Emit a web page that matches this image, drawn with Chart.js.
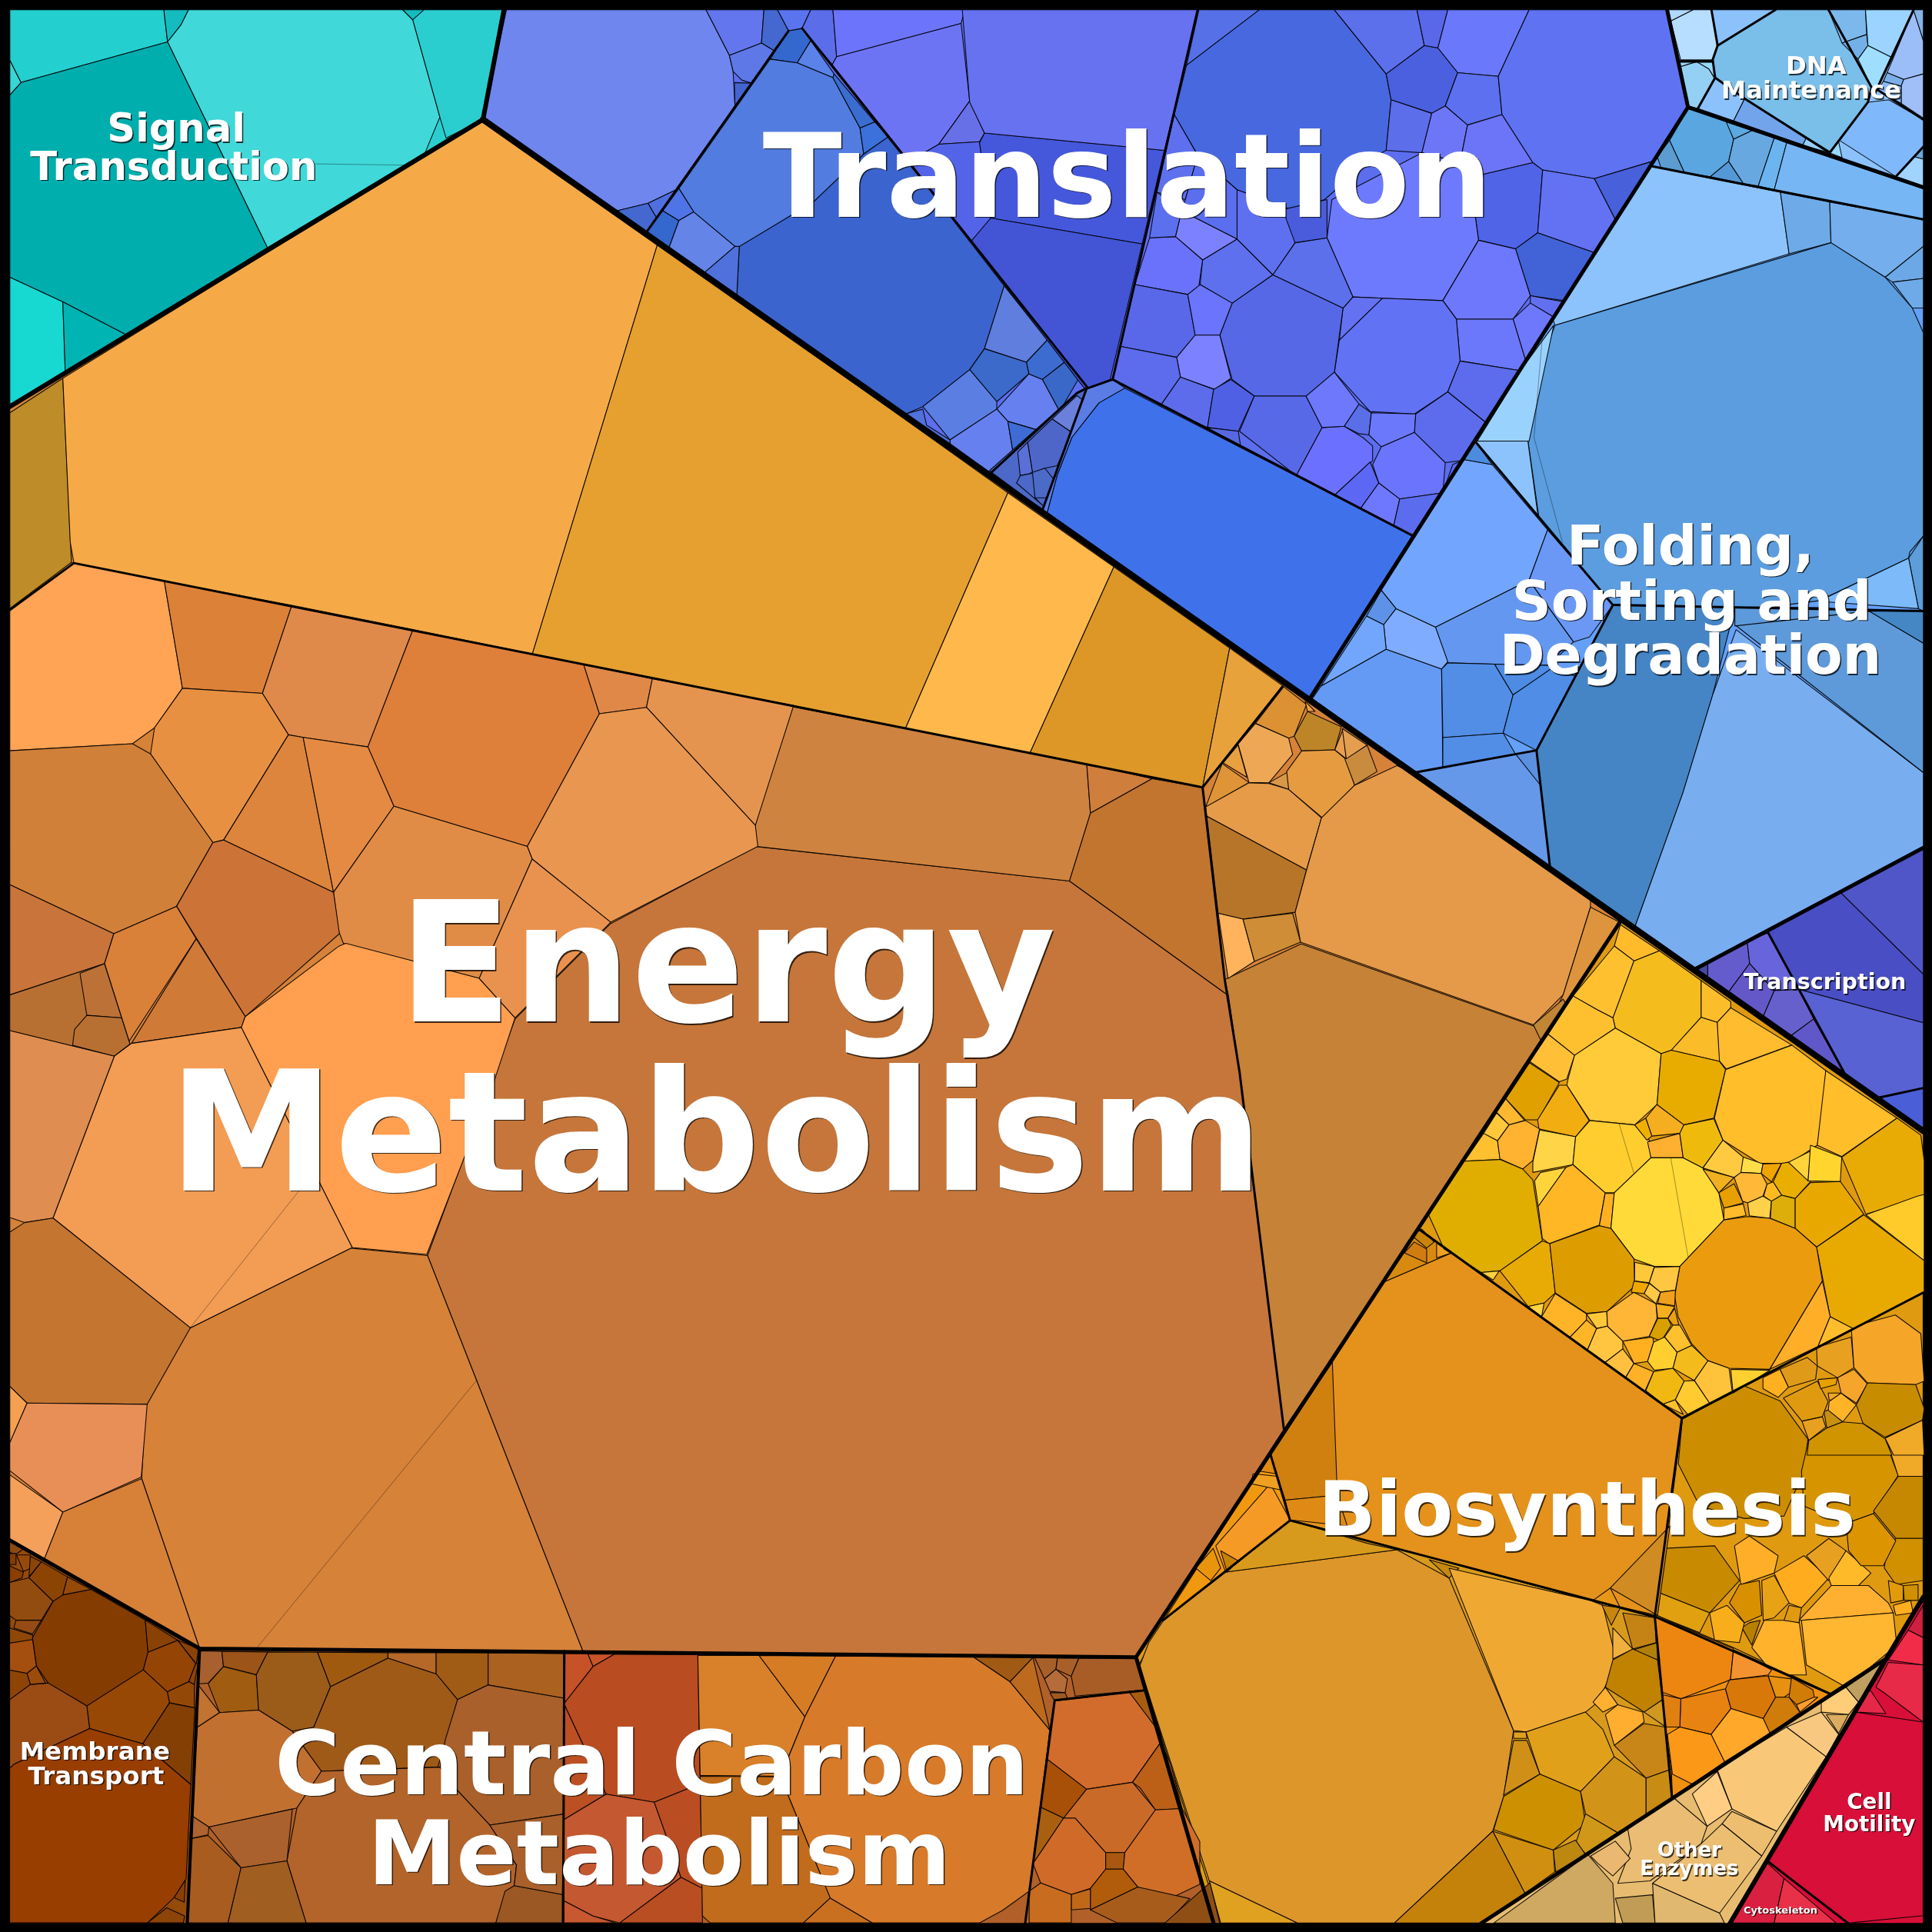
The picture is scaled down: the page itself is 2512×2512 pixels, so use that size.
<!DOCTYPE html>
<html>
<head>
<meta charset="utf-8">
<title>Proteomap</title>
<script src="https://cdn.jsdelivr.net/npm/chart.js@4"></script>
<style>
html, body { margin: 0; padding: 0; background: #000; }
canvas { display: block; }
</style>
</head>
<body>
<canvas id="mapa" width="2512" height="2512"></canvas>
<script>
// Each vertex list was read from a view of the picture: [left, top, width, height] of that view,
// with the view showing as 1568 units across. wholeView is the whole picture.
const wholeView = [0, 0, 2512, 2512];
const yellowView = [1820, 1200, 692, 692];
const lowerView = [1500, 1500, 1012, 1012];
const rightView = [1500, 800, 1012, 700];
const carbonView = [0, 1950, 1560, 562];
const membraneView = [0, 1950, 562, 562];
const energyView = [0, 700, 1000, 1300];

// top level regions, underneath all the cells
const regionCells = [
  [8,8,410,8,392,97,8,330],
  [410,8,1353,8,1370,87,1063,567,392,97],
  [8,330,392,97,1315,748,922,1345,162,1338,8,1250],
  [1353,8,1561,8,1561,152,1370,87],
  [1370,87,1561,152,1561,688,1375,787,1063,567],
  [1375,787,1561,688,1561,918],
  [1315,748,1561,918,1561,1296,1531,1346,1202,1561,985,1561,922,1345],
  [1531,1346,1561,1296,1561,1561,1404,1561],
  [1202,1561,1531,1346,1404,1561],
  [162,1338,922,1345,985,1561,152,1561],
  [8,1250,162,1338,152,1561,8,1561]
];
const regionColors = ["#2BCECF","#5C6EEE","#D68239","#8CC2FC","#64A0F8","#5055C8","#E09A10","#D80F38","#E8BC70","#B06028","#944A08"];

const signalCells = [
  [8,8,133,8,136,34,17,67,8,49],
  [133,8,153,8,147,20,136,34],
  [153,8,327,8,335,16,357,95,345,124,217,201,136,34,147,20],
  [327,8,409,8,392,97,362,112,357,95,335,16],
  [327,8,344,8,335,16],
  [8,77,17,67,136,34,217,201,103,272,51,245,8,225],
  [8,225,51,245,53,303,8,330],
  [51,245,103,272,53,303],
  [8,49,17,67,8,77]
];
const signalColors = ["#24CFCF","#14BCC0","#40D8D8","#2BCECF","#14BCC0","#00AEAE","#18D8D2","#00B4B4","#38D6D6"];

const translationCells = [
  [411,8,573,8,592,45,595,58,596.5,86,551,153,526,165,501,171,392,97],
  [573,8,620,8,618,35,592,45],
  [620,8,631,8,640,25,628,41,618,35],
  [592,45,618,35,628,41,610,67.5,602,65,595,58],
  [596,67,610,67.5,596.5,86],
  [501,171,526,165,533,177,525,188],
  [526,165,551,153,538,171,533,177],
  [640,25,651,23,658,33,647,51,625,48],
  [658,33,677,60,676,63,647,51],
  [631,8,658,8,651,23,640,25],
  [625,48,647,51,676,63,698,104,701,125,690,143,660,164,600,200.6,596.5,200,563,172,551,153],
  [676,63,698,104,710,99,677,60],
  [698,104,710,99,721,111,701,125],
  [600,200,660,164,701,125,721,111,815,232,799,283,787,300,749,330,735,336,598,240],
  [525,188,538,171,551,179,543,201],
  [538,171,551,153,563,172,551,179],
  [551,179,563,172,596.5,200,572,221,543,201],
  [572,221,596.5,200,600,200,598,239.5],
  [799,283,815,232,850,276,833,294],
  [833,294,850,276,864,294,846,308,835,303.5],
  [864,294,875,308,860,334,846,308],
  [787,300,799,283,833,294,835,303.5,809,326],
  [749,330,787,300,809,326,809,332,771,357],
  [809,332,835,303.5,846,308,860,334,842,349,818,342],
  [771,357,809,332,818,342,822,366,804,384,771,360],
  [818,342,842,349,822,366],
  [735,336,749,332,752,345,771,357,771,360],
  // lower wedge
  [803,382,874,319,882,315,846,414],
  [834,359,854,340,870,351,858,378,848,380,838,384],
  [854,340,874,321,879,325,870,351],
  [826,367,834,359,838,384,828,386],
  [836,384,848,380,856,390,854,404,840,404],
  [828,386,838,384,840,404,846,410,825,392],
  [882,315,903,308,913,315,892,327,870,355,858,386,850,416,846,414],
  [913,315,1147,435,1063,566,850,416,858,386,870,355,892,327],
  // upper purple block
  [658,8,676,8,679,46,675.5,52.5,651,23],
  [676,8,783,8,780,19,679,46],
  [675.5,52.5,679,46,780,19,787,82,762,117,738,131],
  [787,82,799,108,795,115,762,117],
  [738,131,762,117,795,115,804,178,788,196],
  [799,108,945,122,927,198,804,177,795,116],
  [804,177,927,198,901,308,884,315,880,315,788,196],
  [781,8,973,8,945,122,799,108,787,83]
];
const translationColors = ["#6E86EE","#6476EE","#4468D0","#5E78E8","#4464D0","#4468D0","#4F6FE0","#3468CE","#5A82E8","#5A74F0",
  "#527CDF","#3B6CD0","#3C70DA","#3B64CE","#3468CE","#4F74E8","#6484E8","#5070DC","#5F7EDE","#3D6CD0","#3A68C8","#3C6ACB","#5A7EE2","#6680F0","#6680F0","#3E6CD4","#5070DC",
  "#4C68C8","#4E66C8","#6A80DC","#5A70D8","#4C6AC8","#4C68C8","#5A7CE4","#3F72EA",
  "#5B6DE8","#6C74FC","#6D74F4","#6870E8","#5464E8","#4558DC","#4355D5","#6772F0"];

const ribosomeCells = [
  [973,8,1022,8,963,53],
  [1022,8,1083,8,1125,60,1129,81,1125,122,1114,128,1075,162,1047,170,1004,154,972,126,953,93,963,53],
  [1083,8,1150,8,1156,37,1125,60],
  [1150,8,1175,8,1167,39,1156,37],
  [1175,8,1241,8,1216,62,1183,59,1167,39],
  [1156,37,1167,39,1183,59,1173,86,1162,92,1129,81,1125,60],
  [1183,59,1216,62,1219,93,1191,101.5,1173,86],
  [1241,8,1353,8,1370,87,1341,131,1294,145,1252,138,1244,132,1219,93,1216,62],
  [1129,81,1162,92,1154,124,1125,122],
  [1162,92,1173,86,1191,101.5,1185,132,1154,124],
  [1191,101.5,1219,93,1244,132,1193,144,1185,132],
  [1244,132,1252,138,1248,189,1230,202,1200,195,1193,144],
  [1252,138,1294,145,1311,178,1294,205,1248,189],
  [1294,145,1341,131,1311,178],
  [1248,189,1294,205,1269,244,1242,240,1230,202],
  [1077,193,1081,162,1154,124,1185,132,1193,144,1200,195,1171,244,1122,242,1098,241],
  [1200,195,1230,202,1242,240,1228,259,1182,259,1171,244],
  [1242,240,1269,245,1262,258,1242,246],
  [1228,259,1242,246,1262,258,1238,292],
  [1182,259,1228,259,1238,292,1235,301,1185,293],
  [1122,242,1171,244,1182,259,1185,293,1175,318,1148,336,1112,334,1083,302,1087,276],
  [1098,241,1122,242,1087,276,1090,250],
  [1185,293,1235,301,1206,343,1175,318],
  [1033,223,1090,250,1083,302,1060,321.5,1018,321.5,1000,308,990,272,1000,246],
  [1051,197,1077,193,1098,241,1090,250,1033,223],
  [1004,194,1033,223,1000,246,974,231,976,211],
  [1004,194,1004,154,1047,170,1051,197,1033,223],
  [959,171,1004,194,976,211,954,192],
  [933,193,954,192,976,211,973,232,964,239,921,231],
  [921,231,964,239,970,272,955,290,909,281],
  [964,239,974,231,1000,246,990,272,970,272],
  [970,272,990,272,999,307,986,316,958,306,955,290],
  [909,281,955,290,958,306,942,329,903,308],
  [942,329,958,306,985,316,980,347],
  [985,316,999,308,1018,321.5,1005,350,980,347],
  [1018,321.5,1060,321.5,1073,347,1052,386,1006,350],
  [980,347,1005,350,1007,363,988,352],
  [1073,347,1091,346,1106,355,1114,362,1114,374,1083,402,1052,386],
  [1060,321.5,1083,302,1103,328,1091,346,1073,347],
  [1103,328,1113,335,1111,353,1103,352,1091,346],
  [1113,335,1149,336,1148,351,1121,362.6,1111,353],
  [1149,336,1175,318,1206,343,1189,373.5,1173,375.5,1148,351],
  [1121,362.6,1148,351,1173,375.5,1171,400,1136,405,1119,392,1114,377],
  [1083,402,1112,375,1119,392,1104,413],
  [1104,413,1119,392,1136,405,1131,427],
  [1136,405,1171,400,1179,377,1189,373,1147,435,1131,427],
  [1041,170,1077,162,1077,193,1051,197],
  [939,156,953,93,972,126,962,162],
  [933,193,939,156,959,171,954,192],
  [972,126,1004,154,1004,194,959,171,962,162]
];
const ribosomeColors = ["#5670E8","#4868E0","#5C70EC","#5868E8","#6A78FC","#4A60DE","#5C70F0","#5F72F2","#5C6EEA","#6E76F8",
  "#6C74F8","#5064E8","#6272F2","#4860DA","#4262D8","#6E7AFE","#6E78FC","#6270F0","#6E78FC","#6C78FC",
  "#6272F4","#6472F2","#5C6CEC","#5668E6","#5C70EC","#5E70EE","#5E70F0","#7C82FF","#6A72FC","#5868E8",
  "#6A74FC","#7C82FF","#5C6CEC","#5C6CEA","#4F60E4","#5869E8","#5868E0","#6C70FF","#6E78FC","#5A6EE8",
  "#6C78FC","#5C6CEC","#6A74FC","#5C68F4","#6E78FF","#5C6CEE","#4A5CDC","#5E70EE","#5C70EE","#5A6EEE"];

const foldingCells = [
  [1370,88,1402,99,1407,113,1403,131,1388,143.5,1367,140,1355,114],
  [1401,99,1422,106,1407,113],
  [1355,114,1367,140,1348,136,1345,127],
  [1388,143.5,1403,131,1415,149],
  [1407,113,1422,106,1440,112,1427,151,1415,149,1403,131],
  [1440,112,1450,116,1440,154,1427,151],
  [1450,116,1561,153,1561,178,1440,154],
  [1340,135,1445,156,1452,206,1262,264,1260,258],
  [1445,156,1485,164,1486,197,1452,206],
  [1485,164,1561,178,1561,200,1530,225,1486,197],
  [1530,225,1561,200,1561,226,1536,229],
  [1536,229,1561,226,1561,250,1552,250],
  [1262,264,1486,197,1530,225,1552,250,1561,270,1561,435,1550,448,1549,453,1476,487.6,1436,492.6,1408,493,1309,491,1267,443,1249,420,1240,357,1244,312],
  [1261,264,1241,358,1199,358,1236,298],
  [1197.7,358,1240,358,1248.4,420],
  [1549,453,1561,435,1561,496,1557,494],
  [1549,453,1557,494,1476,488],
  [1188,373,1211,377,1256,430,1241,471,1165,509,1133,494,1121,479],
  [1188,373,1197,358,1211,377],
  [1256,430,1309,491,1290,517,1277,521,1241,471],
  [1241,471,1277,521,1257,540,1213,539,1175,538,1165,509],
  [1121,479,1133,494,1123,507,1109,500],
  [1133,494,1165,509,1175,537,1170,543,1125,527,1123,507],
  [1109,500,1123,507,1125,527,1072,557],
  [1072,557,1125,527,1170,543,1171,623,1148,627,1065,567],
  [1170,543,1175,538,1213,539,1228,564,1220,595,1171,598.6],
  [1213,539,1257,540,1280,545,1260,544,1228,564],
  [1228,564,1260,542,1279,549,1247,609,1220,595],
  [1171,598.6,1220,595,1230,612,1171,623],
  [1148,627,1247,609,1258,695,1258,704],
  [1230,612,1247,609,1250,637],
  [1309,491,1408,493,1390,564,1366,643,1327,752,1258,704,1247,609],
  [1390,564,1409,511,1561,627,1561,688,1375,786,1327,752,1366,643],
  [1408,507,1517,496,1561,522,1561,627],
  [1408,493,1476,493,1517,496,1408,508],
  [1517,496,1561,496,1561,522]
];
const foldingColors = ["#5AA6E0","#5CA8E0","#5C9CD0","#5598D8","#68A8E0","#6CB4F0","#76B6F4","#8CC3FC","#6EAAE8","#74AEEC",
  "#6CA8E6","#6EAAE8","#5B9DDF","#9AD2FE","#8CC3FC","#5C9DDA","#7DBAFA","#72A6FE","#4C8CE0","#6A98F4",
  "#6498F0","#5E92E8","#80ACFF","#72A6FC","#649AF4","#528EE6","#4E8CE4","#4F8DE6","#528EE6","#6698EA",
  "#5B90E0","#4585C5","#78AEF0","#5E9ADA","#5C9ADC","#4587C5"];

const dnaCells = [
  [1356,17,1374,8,1389,8,1394,37,1390,48.5,1364,48.5],
  [1354,8,1374,8,1356,17],
  [1364,54,1377,50,1387,56,1392,64.5,1378,88,1370,86],
  [1363,49,1390,49,1392,64,1387,56,1377,50,1364,54],
  [1389,8,1441,8,1394,37],
  [1441,8,1484,8,1519,71,1516,83,1485,123,1416,80,1392,63,1390,48.5,1394,37],
  [1392,63,1416,80,1407,98,1378,88],
  [1416,80,1466,112,1463,118,1407,98],
  [1466,112,1485,124,1463,118],
  [1485,124,1492,114,1495,128],
  [1484,8,1514,8,1515,28,1495,35],
  [1495,35,1515,28,1516,37,1508,48],
  [1514,8,1553,8,1536,47,1516,37],
  [1516,37,1536,47,1521,77,1519,71,1508,48],
  [1553,8,1561,33,1561,60,1545,64.5,1531.6,59],
  [1553,8,1561,8,1561,33],
  [1531.6,59,1545,64.5,1543,70,1528.5,66],
  [1545,64.5,1561,60,1561,96,1543,84,1543,70],
  [1528.5,66,1543,70,1543,84,1524,73],
  [1516,83,1533,81,1561,97,1561,119,1539,143.5,1493,114],
  [1539,143.5,1553,127,1561,129,1561,151],
  [1553,127,1561,119,1561,129]
];
const dnaColors = ["#B8DEFF","#B0D8FF","#94D0F4","#98D8FA","#8CC2FC","#7ABEEA","#8CC2FC","#72A4EC","#98CEFF","#98D8FF",
  "#7CB8EC","#74B0E8","#9AD4FF","#A0DEFF","#9CBEF8","#84B4E8","#7CAEE8","#A0BEF8","#8CB8F4","#80B8FC","#A0D4FF","#6CA8E0"];

const transcriptionCells = [
  [1434.5,756,1494,724.5,1561,790.6,1561,830,1460,803],
  [1494,724.5,1561,688,1561,790.6],
  [1460,803,1498,873,1524,891,1561,883,1561,830],
  [1524,891,1561,883,1561,917],
  [1376,785,1386,781,1386,794],
  [1386,781,1418,764,1420,782,1403,805,1386,794],
  [1418,764,1435,757,1460,803,1440,804,1420,782],
  [1403,805,1420,782,1440,804,1431,825],
  [1440,804,1460,803,1472,827,1453,841,1431,825],
  [1472,827,1498,873,1453,841]
];
const transcriptionColors = ["#4A4EC4","#5055C8","#5862D2","#4A5ED8","#4848A8","#645CCC","#6864DC","#6458C8","#6660CC","#6058C8"];

const energyTopCells = [
  [8,335,51,307,58,457,8,495],
  [51,307,392,97,534,197,432,531,60,457,57,440],
  [534,197,818,400,735,591,432,531],
  [818,400,904,460,836,611,735,591],
  [904,460,998,526,976,639,836,611],
  [998,526,1041.6,557,993,618,976,639],
  [994,795,1056,766,1243,832,1258,838,1042,1160,1006,870],
  [614,687,868,715,997,808,1006,870,1042,1160,922,1345,473,1340,347,1019,418,827,495,750],
  [640,573,882,620,885,660,868,715,614,687,613,670],
  [882,620,935,632,885,660],
  [885,660,935,632,976,639,994,795,997,808,868,715],
  [285,1013,347,1019,473,1340,162,1338,115,1200,118,1140,154,1078],
  [36,1265,51,1227,115,1200,162,1338],
  [8,1197,51,1227,36,1265,8,1250]
];
const energyTopColors = ["#BE8C28","#F5AA47","#E6A030","#FFB84B","#DC9726","#E8A23C","#C68237","#C6763A","#CF8340","#D07E3C","#C2752F","#D68239","#D78038","#F5A05A"];

const energyRightCells = [
  [262,208,308,260,283,352,272,358,205,315],
  [305,250,325,280,310,280],
  [310,280,378,325,365,392,298,395,283,352],
  [170,375,205,315,272,358,280,405,232,488,192,487],
  [140,430,170,378,188,472],
  [105,558,138,432,192,487],
  [105,558,192,488,232,490,272,507,338,590,308,742,107,585],
  [232,488,272,455,272,507],
  [272,507,268,455,298,395,365,392,388,420,405,495,340,590],
  [365,392,382,330,388,418],
  [385,418,430,378,450,455,405,495],
  [380,330,430,378,388,418],
  [107,585,308,742,285,865,180,885,130,868],
  [130,868,180,885,203,1008,150,1058],
  [180,885,280,868,296,952,203,1008],
  [338,590,405,495,490,438,525,460,880,830,880,850,825,1105,765,1193,296,952,285,865,308,742],
  [825,1105,880,850,940,895,790,1215],
  [765,1193,825,1118,830,1130,790,1218,780,1238]
];
const energyRightColors = ["#DC9233","#F0A040","#BE8528","#EEA855","#E8A040","#DF9438","#E59B48","#D89848","#E69B40","#E8A050","#C98B3E","#E59E50","#B7752A","#FFB35C","#CE8D36","#E49A48","#DE943C","#C08636"];

const energyLeftCells = [
  [20,110,145,38,335,67,372,235,315,297,270,322,20,333],
  [335,67,595,105,535,243,372,235],
  [595,105,842,143,750,327,618,312,588,308,535,243],
  [842,143,1190,198,1222,275,1075,483,803,420,750,327],
  [1190,198,1330,220,1318,265,1222,275],
  [1330,220,1618,262,1540,450,1318,265],
  [1222,275,1318,265,1540,450,1545,483,1245,602,1085,503,1075,483],
  [372,235,535,243,588,308,456,473,434,477,307,338,315,297],
  [588,308,618,312,680,555,456,473],
  [618,312,750,327,803,420,680,555],
  [803,420,1075,483,1085,503,977,690,700,635,690,615,680,555],
  [20,333,270,322,307,338,434,477,360,577,232,620,20,543],
  [434,477,456,473,680,555,692,620,500,750,360,577],
  [20,543,232,620,213,667,20,716],
  [232,620,360,577,400,628,262,790,213,667],
  [400,628,500,750,492,767,268,792],
  [20,716,213,667,265,793,233,812,20,772],
  [163,682,213,667,248,752,177,748],
  [177,748,248,752,265,793,233,812,148,795,152,770],
  [500,750,690,640,705,635,977,690,1050,752,1010,845,870,1123,718,1112,492,767],
  [977,690,1085,503,1245,602,1050,752],
  [233,812,268,792,492,767,718,1112,388,1238,108,1066],
  [20,772,233,812,108,1066,50,1073,20,1065],
  [20,1088,50,1073,108,1066,388,1238,300,1358,55,1356,20,1330],
  [55,1356,300,1358,288,1472,128,1527,20,1462,20,1418],
  [20,1330,55,1356,20,1418]
];
const energyLeftColors = ["#FFA354","#DC8138","#DF8A4A","#DE7F3A","#E08848","#E59450","#E99650","#E89041","#DD853C","#E58A42","#E18C46","#D18039",
  "#CC7337","#C9743A","#D98039","#D07A38","#B87032","#BC7236","#B87032","#FF9F4F","#E9924F","#F39C54","#DF8D50","#C47530","#E88F58","#F5A050"];

const yellowCells = [
  [650,5,765,82,690,112,632,68],
  [632,68,690,112,628,280,580,255,510,215],
  [690,112,765,82,888,170,888,278,800,375,770,385,635,310,628,280],
  [888,170,975,232,975,250,935,293,888,278],
  [935,293,975,250,1155,360,962,430,940,405],
  [800,375,888,278,935,293,942,408],
  [510,215,580,255,628,280,635,310,515,390,437,328],
  [382,408,437,328,515,390,492,460,470,468],
  [515,390,635,310,770,385,758,535,692,595,560,582,492,478,497,455],
  [770,385,800,375,942,408,960,432,925,575,837,595,758,535],
  [960,432,1155,360,1255,435,1250,520,1230,655,1150,708,1060,708,952,640,927,575],
  [1255,435,1465,575,1302,688,1230,655],
  [1465,575,1535,625,1545,700,1545,805,1373,858,1302,690],
  [312,518,382,412,470,470,408,580,370,580],
  [470,478,492,478,558,582,518,630,410,607,406,580],
  [285,558,312,518,368,582,322,595],
  [247,620,285,560,322,595,288,642],
  [190,702,247,620,288,642,296,697],
  [288,642,322,595,370,582,412,607,392,700,362,725,295,695],
  [412,610,518,630,510,712,392,735,392,705],
  [510,712,518,630,560,582,692,595,735,640,740,692,632,795,605,795],
  [692,595,725,575,743,628,728,640],
  [725,575,757,535,837,595,825,620,743,628],
  [730,645,825,620,835,692,740,692],
  [825,620,837,595,925,577,952,640,893,722,835,692],
  [893,722,952,640,1012,690,1008,735,985,750],
  [1012,690,1070,710,1065,738,1005,735],
  [1070,710,1125,708,1095,763,1065,738],
  [1125,708,1145,705,1210,762,1165,812,1125,802,1100,763],
  [1145,705,1210,672,1203,760],
  [1210,655,1302,690,1298,762,1203,760],
  [397,760,415,735,490,720,408,835],
  [408,835,490,720,510,712,605,795,588,890,440,945,420,930],
  [605,797,632,797,622,900,588,892],
  [632,795,740,692,835,692,893,722,940,795,955,875,825,1012,750,1012,690,990,622,900],
  [893,725,985,750,940,795],
  [940,795,985,768,1012,825,955,840],
  [955,840,1012,828,1020,862,955,875],
  [985,750,1005,735,1065,738,1082,770,1070,805,1025,825,1010,820],
  [1082,770,1100,763,1125,802,1095,820,1072,805],
  [1025,825,1070,805,1095,820,1090,870,1030,863],
  [1095,820,1125,802,1165,812,1165,900,1092,870],
  [1165,812,1210,765,1298,762,1367,858,1228,955,1165,900],
  [1373,860,1525,805,1545,800,1545,995],
  [1228,955,1367,860,1545,995,1545,1090,1335,1195,1268,1160],
  [955,875,1025,865,1090,870,1165,900,1228,955,1245,1055,1090,1315,970,1312,905,1288,860,1240,820,1160,810,1100,825,1012],
  [1245,1055,1268,1160,1232,1248,1090,1315],
  [1232,1248,1268,1160,1335,1195],
  [85,860,190,702,295,697,362,725,392,757,420,937,295,1025,240,1030,130,960],
  [295,1025,420,937,442,945,458,1090,425,1120,378,1130],
  [442,945,588,892,622,900,690,990,692,1070,610,1145,550,1150,458,1090],
  [240,1030,293,1025,275,1052],
  [378,1130,425,1120,418,1160],
  [418,1160,458,1092,550,1152,550,1170,500,1222],
  [500,1222,550,1170,580,1195,553,1258],
  [550,1152,610,1145,612,1188,580,1195],
  [553,1258,580,1195,612,1188,657,1232,657,1255,605,1295],
  [605,1295,657,1255,690,1298,665,1340],
  [665,1340,690,1298,748,1322,722,1380],
  [657,1232,745,1220,748,1235,730,1292,690,1298],
  [610,1145,690,1088,755,1122,758,1165,735,1218,657,1232,612,1188],
  [692,1000,750,1012,735,1060,692,1055],
  [750,1015,825,1012,812,1082,768,1088,735,1060],
  [690,1055,735,1062,720,1092,682,1088],
  [735,1062,768,1088,755,1122,720,1092],
  [768,1088,812,1082,810,1128,760,1120],
  [755,1122,810,1130,790,1165,760,1165],
  [760,1165,790,1165,800,1185,770,1232,735,1218],
  [790,1165,810,1135,822,1185,805,1185],
  [780,1220,805,1185,825,1185,860,1245,817,1265],
  [748,1235,780,1220,817,1265,805,1312,750,1318,730,1292],
  [817,1265,860,1245,908,1290,868,1348,805,1312],
  [748,1322,805,1312,838,1350,812,1405,775,1418,725,1378],
  [838,1350,868,1348,915,1418,850,1450,812,1405],
  [868,1348,908,1290,970,1312,980,1385,915,1418],
  [975,1315,1090,1318,982,1385],
  [775,1418,812,1405,835,1448]
];
const yellowColors = ["#FFBB2A","#FFC030","#F4BC1C","#FBBE2A","#FFBC2E","#FBBC2A","#FFC030","#FFC038","#FFCB38","#E8AC00",
  "#FFBE2A","#FFBE2A","#E8AA05","#E0A000","#F2AE10","#FFB830","#FFC83A","#FFC030","#FFB330","#FFD446",
  "#FFCE2E","#F0B000","#F5AE20","#FFB030","#EEBB0C","#FFCA40","#FFDE4A","#F0A400","#EAAE00","#FFD33A",
  "#FFD52E","#FFD43A","#FFB726","#FFB020","#FFDA38","#F0B020","#E8A000","#FFBB2A","#FFB838","#FFBA20",
  "#FFD04A","#DDAD0A","#E8A800","#FFCB2A","#E8AA00","#EA9C0E","#FFAE28","#FFBC2C","#E0AE00","#E8AA05",
  "#DD9C00","#FFD040","#FFD440","#FFB428","#FFB626","#FFC83A","#FFC540","#FFC040","#FFB228","#FFB020",
  "#FFB535","#FFC83A","#FFC642","#F0A800","#FFC845","#F0A01C","#F5AE1E","#D8A000","#ECA010","#FFC030",
  "#FFCF30","#F3BC1C","#F0B810","#FFCB30","#FFC23A","#FFD030","#FFC030"];

// corner of the orange block under the yellow one, read again from the yellow view
const orangeTopCells = [
  [1130,1400,1230,1350,1262,1410,1245,1455,1185,1468],
  [1120,1315,1200,1280,1230,1305,1225,1345,1145,1368],
  [1070,1340,1120,1315,1145,1368,1115,1398,1070,1372],
  [1228,1250,1330,1220,1338,1310,1290,1340,1230,1305],
  [1330,1190,1460,1155,1535,1210,1545,1350,1520,1360,1378,1355,1338,1310],
  [1290,1340,1338,1315,1378,1358,1345,1415,1300,1385],
  [1232,1345,1290,1340,1285,1360,1240,1372],
  [1262,1385,1300,1385,1295,1410,1265,1405],
  [1265,1410,1300,1385,1345,1420,1305,1470,1262,1440],
  [1185,1468,1245,1455,1255,1485,1205,1525],
  [1250,1440,1262,1435,1305,1470,1258,1488],
  [1345,1420,1378,1355,1520,1360,1545,1430,1540,1465,1430,1515,1365,1475],
  [1305,1470,1365,1475,1430,1520,1450,1568,1200,1568,1205,1525,1258,1488],
  [1430,1518,1540,1465,1545,1568,1455,1568]
];
const orangeTopColors = ["#E09A10","#E09A1A","#FFB020","#E8A020","#F5A528","#F5A42C","#E8A000","#F0A820","#FFB428","#E8A020","#C89010","#C88C00","#D09400","#F0AA28"];

const lowerCells = [
  // darker orange block, right
  [1065,535,1550,280,1550,900,1475,1018,1365,1088,1168,995,1010,928],
  [1065,535,1190,468,1262,498,1318,575,1310,640,1270,730,1190,735,1100,710,1057,625],
  [1305,640,1320,575,1395,542,1472,575,1500,648,1450,725,1395,745,1310,710],
  [1475,572,1550,535,1550,650,1500,650],
  [1450,720,1500,650,1550,650,1550,775,1495,775],
  [1475,810,1495,775,1550,775,1550,860,1495,868,1472,835],
  [1030,795,1130,790,1180,860,1120,925,1020,885],
  [1170,790,1200,770,1258,810,1250,845,1183,868],
  [1250,845,1310,810,1360,855,1305,915,1278,905],
  [1315,810,1360,775,1395,800,1360,860],
  [1360,855,1395,800,1445,845,1420,870,1365,870],
  [1300,940,1365,870,1440,870,1480,905,1490,925,1305,940],
  [1305,940,1490,925,1497,990,1395,1075,1315,1030],
  [1205,995,1230,940,1300,940,1315,1050,1250,1050],
  [1185,955,1200,945,1222,940,1205,990],
  [1120,925,1155,910,1190,945,1180,985,1130,980],
  [1180,868,1220,860,1225,930,1190,945,1160,905],
  [1225,860,1250,850,1280,905,1250,935,1228,940],
  [1280,910,1305,915,1300,945,1270,940],
  [1020,885,1120,925,1100,965,1012,930],
  [1395,745,1450,725,1495,780,1470,830,1425,830,1400,800],
  [1480,860,1510,870,1510,900,1485,905],
  [1510,870,1540,868,1540,900,1512,900],
  [1490,910,1525,900,1530,925,1495,930],
  // orange-red wedge
  [1010,928,1365,1088,1045,1298],
  [1008,930,1168,997,1162,1060,1062,1098,1025,1085],
  [1168,1000,1245,1040,1238,1050,1162,1060],
  [1062,1098,1152,1078,1163,1118,1123,1170,1060,1155],
  [1025,1090,1062,1098,1060,1155,1030,1155],
  [1152,1078,1160,1060,1238,1052,1253,1095,1228,1138,1163,1118],
  [1238,1052,1285,1058,1295,1078,1270,1095,1253,1095],
  [1285,1055,1328,1080,1332,1100,1295,1110,1280,1095],
  [1228,1138,1253,1095,1280,1095,1302,1125,1240,1170],
  [1123,1170,1163,1118,1228,1138,1242,1168,1150,1225],
  [1035,1170,1060,1155,1123,1170,1150,1225,1085,1270,1045,1250],
  [1295,1110,1330,1095,1338,1095,1302,1125],
  // golden block
  [275,738,1010,935,1045,1298,660,1550,135,1550,-30,1030,-5,985,20,940],
  [20,940,145,843,490,798,595,855,725,1162,705,1295,683,1365,485,1550,290,1550,112,1465,0,1120,-28,1032,-10,985],
  [112,1465,290,1550,135,1550],
  [145,843,275,738,430,785,490,798],
  [555,818,615,835,595,855],
  [595,835,880,900,905,910,927,1000,925,1040,895,1105,870,1125,750,1165,725,1162],
  [903,910,940,915,922,950],
  [925,955,965,998,925,1018],
  [945,925,1010,935,1012,985,965,998],
  [965,1000,1015,985,1015,1020],
  [925,1020,965,998,1015,1020,1025,1100,988,1125,910,1075],
  [885,1105,910,1075,935,1110,905,1125],
  [910,1130,935,1110,985,1125,988,1145,928,1192],
  [988,1125,1025,1100,1032,1155],
  [928,1192,988,1148,1030,1155,1043,1240,992,1258],
  [750,1165,870,1125,905,1160,928,1215,860,1285,778,1250],
  [725,1165,750,1165,752,1178,725,1178],
  [725,1182,752,1182,778,1250,705,1292],
  [705,1295,778,1250,860,1285,870,1350,805,1403,685,1362],
  [860,1285,928,1215,992,1258,992,1333,935,1368,870,1330],
  [992,1258,1043,1240,1045,1298,992,1332],
  [870,1330,935,1368,870,1410,850,1390],
  [805,1403,850,1383,870,1412,810,1447],
  [683,1365,805,1403,808,1447,748,1490],
  [683,1365,748,1490,660,1550,485,1550],
  // big orange cell and its neighbours
  [360,420,465,258,600,200,1065,535,1015,930,880,900,275,738,235,605],
  [235,605,360,420,370,688,265,698],
  [265,698,370,688,390,750,275,738],
  [920,875,1040,750,1015,930],
  [885,900,920,875,940,915],
  [535,150,600,200,465,258,510,180],
  [505,200,525,178,550,192,550,220],
  [520,165,540,152,565,178,550,190],
  [570,180,600,200,570,210],
  // small left cluster
  [235,605,275,738,145,843,20,940],
  [125,790,235,665,275,738,145,843],
  [200,645,250,650,258,678,197,665],
  [215,640,235,605,248,645],
  [85,835,120,795,135,835,115,860],
  [135,800,170,820,148,843],
  // cell motility, cytoskeleton
  [1235,1425,1415,1125,1550,1145,1550,1535,1400,1550],
  [1550,910,1550,975,1520,960],
  [1480,1020,1520,960,1550,975,1550,1030],
  [1455,1075,1480,1025,1550,1030,1550,1145,1470,1085],
  [1415,1125,1440,1075,1475,1128],
  [1160,1550,1235,1428,1270,1460,1250,1550],
  [1270,1460,1375,1550,1250,1550],
  // other enzymes
  [1135,1240,1275,1155,1355,1215,1255,1365,1165,1320],
  [1275,1155,1345,1125,1380,1170,1355,1215],
  [1345,1105,1395,1075,1420,1105,1400,1130,1345,1125],
  [1355,1130,1400,1130,1380,1168],
  [1395,1075,1475,1020,1420,1105],
  [1085,1290,1135,1245,1165,1320,1115,1355],
  [1165,1325,1255,1365,1225,1415,1145,1350],
  [955,1360,1048,1298,1115,1355,1103,1390,1000,1465,935,1470,962,1400],
  [1103,1390,1145,1350,1225,1415,1140,1530,1005,1470],
  [880,1415,930,1385,960,1420,925,1455,895,1430],
  [685,1550,875,1412,925,1470,930,1550],
  [930,1500,1005,1493,1010,1550,945,1550],
  [1005,1470,1140,1530,1150,1550,1010,1550]
];
const lowerColors = ["#E09A10","#CC8E00","#D69400","#F0AA28","#C68800","#D09000",
  "#C88A00","#FFAE28","#FFAC1E","#E8A020","#FFBA2A","#FFB030",
  "#FFB630","#FFB22A","#B88000","#F8AE1A","#D89000","#E8A215","#E09A10","#E0A010","#DC9400","#E09A0A","#D09000","#FFAE20",
  "#F09010","#EC8610","#F59230","#E88210","#E08010","#D87808","#E89010","#D07C05","#D07C0A","#FFA82A","#FC9818","#FF9E2A",
  "#D89A1C","#DC962A","#E0A020","#D89A1C","#C48810","#EFA933","#C8860F","#F0B040","#C48314","#B0800A","#C08200","#FFB030",
  "#FFAE30","#D09820","#C88518","#E0A01A","#E0A020","#D09018","#CC9000","#D29418","#C88C14","#D09818","#BC8810","#D08F10","#C4820A",
  "#E4921C","#D0800F","#DE8A15","#D08C22","#E89618","#D88A10","#D07C10","#C88408","#F0A020",
  "#F09810","#F59A24","#F0A020","#E08A10","#E8940C","#C88000",
  "#D80F38","#D02040","#F02C48","#E62A48","#E62848","#D92040","#E83048",
  "#F8C878","#F8C880","#FFCC78","#DCAC60","#C0A060","#FFCE84","#EEBE70","#EABC74","#ECBE72","#EAB870","#CFA862","#C09C56","#E0B870"];

const carbonCells = [
  [262,548,290,550,292,605,272,665,258,668],
  [290,550,350,552,335,635,292,605],
  [272,667,292,605,335,635,338,763,287,772],
  [350,552,415,553,432,678,410,825,382,840,338,763,335,635],
  [415,553,507,555,507,575,432,678],
  [507,555,570,555,570,632,507,575],
  [570,555,638,555,638,672,598,725,570,632],
  [638,555,737,558,737,720,638,672],
  [432,678,507,575,570,632,598,725,580,900,572,970,420,985,382,840,410,825],
  [598,725,638,672,737,720,737,1140,640,1180,598,1055,575,970,582,870],
  [258,668,287,772,258,825],
  [258,825,287,772,338,763,382,840,420,985,388,1118,273,1187,250,1145],
  [388,1118,420,985,575,970,598,1055,640,1180,675,1325,672,1400,655,1480,648,1535,400,1535,375,1310],
  [273,1187,382,1122,375,1310,315,1335],
  [250,1145,273,1187,272,1215,248,1230],
  [248,1230,272,1218,315,1335,298,1535,245,1535],
  [315,1335,375,1310,400,1535,298,1535],
  [660,1420,672,1400,735,1432,735,1535,648,1535],
  [737,1140,640,1180,675,1325,672,1400,735,1432],
  [768,560,803,560,775,605],
  [737,558,768,558,775,605,737,740],
  [775,605,803,560,912,562,915,1030,855,1097,792,1068,737,740],
  [737,1160,792,1068,855,1097,890,1370,810,1535,775,1510,737,1455],
  [737,740,792,1068,737,1160],
  [855,1097,915,1030,918,1410,890,1370],
  [890,1370,918,1410,918,1535,810,1535],
  [737,1455,775,1510,805,1535,737,1535],
  [912,565,992,565,1052,787,1020,1003,915,1000],
  [992,565,1092,567,1052,787],
  [1092,567,1272,570,1320,660,1372,835,1360,1100,1345,1420,1310,1490,1280,1535,1140,1535,1085,1445,1020,1005,1052,787],
  [915,1003,1020,1005,1085,1445,1050,1535,928,1535,918,1510],
  [1085,1445,1140,1535,1050,1535],
  [1272,570,1350,572,1320,660],
  [1350,572,1372,835,1320,660],
  [1352,572,1382,573,1380,615,1365,650],
  [1382,573,1410,574,1400,640,1380,615],
  [1365,650,1380,615,1395,650,1392,700,1372,695],
  [1372,700,1392,700,1395,720,1378,728],
  [1410,574,1487,575,1497,690,1405,712,1400,640],
  [1378,730,1485,695,1517,850,1517,880,1480,1025,1420,1050,1368,940,1372,830],
  [1475,695,1497,690,1517,850],
  [1368,940,1420,1050,1390,1155,1360,1115],
  [1480,1025,1517,880,1530,960,1545,1120,1510,1125,1490,1045],
  [1420,1050,1480,1025,1510,1125,1470,1280,1445,1280,1405,1155,1390,1155],
  [1360,1115,1390,1155,1350,1320,1355,1205],
  [1390,1155,1405,1155,1445,1280,1445,1340,1425,1410,1400,1432,1360,1390,1350,1320],
  [1445,1280,1470,1280,1468,1340,1445,1340],
  [1510,1125,1545,1120,1568,1240,1568,1395,1530,1445,1487,1405,1468,1340,1470,1280],
  [1445,1340,1468,1340,1487,1405,1425,1488,1425,1410],
  [1487,1405,1555,1447,1525,1535,1460,1535,1425,1488],
  [1400,1432,1425,1412,1425,1482,1400,1488],
  [1360,1390,1400,1432,1400,1488,1400,1535,1345,1535,1345,1420]
];
const carbonColors = ["#A8602F","#9C5418","#A05C10","#9A5C18","#A05A10","#B56828","#A05C14","#AB6220","#9F5A18","#A9602B","#C27231","#C27030",
  "#B2642B","#AB612E","#AE6330","#A85C20","#A05E20","#9C5824","#A9602B","#C85428","#C65228","#B94C20","#C45830","#BC5022","#BA4E22","#B84E22","#C85830",
  "#D9802A","#D67C24","#D77A2A","#C06C1C","#C87020","#A05A14","#BC6A1E","#A8602A","#A86028","#B56C3A","#A05A20","#A85C26","#D26C2C","#A85C10","#A85008","#BC6018","#C96A28","#A86010",
  "#D06A28","#A85810","#D06E28","#B05C0A","#A85C1C","#C06818","#C86C20"];

const carbonCornerCells = [[945,1561,982,1528,990,1561]];
const carbonCornerColors = ["#8F4F14"];

const membraneCells = [
  [228,345,330,325,527,437,537,553,520,617,315,748,175,665,132,603,118,500,193,368],
  [527,437,645,510,537,553],
  [645,510,710,595,685,660,607,697,520,617,537,553],
  [645,510,720,540,712,595],
  [710,595,718,595,705,670,685,660],
  [607,697,685,660,705,670,705,755,615,737],
  [315,748,520,617,607,697,615,737,518,885,325,830],
  [518,885,615,737,707,755,692,1033],
  [35,725,110,670,175,665,315,748,325,830,50,960,35,975],
  [35,975,50,960,325,830,518,885,692,1033,675,1375,632,1443,535,1535,35,1535],
  [632,1443,672,1380,668,1460],
  [535,1535,605,1480,670,1510,665,1535],
  [35,507,118,507,132,603,98,630,35,618],
  [98,630,132,603,165,665,110,670],
  [35,618,98,630,110,670,35,725],
  [35,300,105,283,192,368,150,437,58,437,35,420],
  [58,437,150,437,118,487,50,465],
  [35,465,118,490,118,507,35,520],
  [105,283,150,225,245,280,228,345,193,368],
  [245,280,330,325,228,345],
  [35,148,85,178,55,200,35,190],
  [60,200,110,200,110,250,85,260],
  [35,195,58,195,58,235,35,235],
  [35,240,85,262,80,283,35,300],
  [110,205,150,225,105,280]
];
const membraneColors = ["#843C00","#8A4204","#944404","#8A4204","#8C4408","#944808","#964804","#843F04","#9A4C14","#973E00","#8C4000","#8C4408",
  "#A44E10","#9C4C0A","#8E4404","#924C10","#944C14","#8F4708","#8C4404","#954A08","#8C4A0F","#964A0A","#843C00","#8A3E00","#8C4404"];

// hairlines inside cells of nearly the same colour
const faintLines = [
  [256,133,328,134],[154,1078,243,966],[208,1338,387,1120],[1252,270,1245,355,1268,440],
  [1314,912,1326,952],[1356,940,1370,1020]
];
// boundaries between sub groups
const midLines = [
  [640,25,525,188],[651,23,883,315,903,308],[972,8,903,308,1147,435],[804,384,874,319,882,315,846,414],
  [1197,358,1309,491,1247,609,1148,627],[1247,609,1258,704],[1309,491,1561,496],[1341,135,1561,178],
  [8,495,60,457,976,639,1041,557],[976,639,994,795,1006,870,1042,1160],
  [1152,998,1365,1151,1561,1049],[1365,1151,1343,1312,1047,1234,1031,1180],[1047,1234,944,1315],[1343,1312,1486,1375],[1343,1312,1357,1459],
  [458,1340,457,1561],[856,1380,928,1372],[856,1380,832,1561],
  [1441,8,1394,37,1390,48.5,1392,63,1416,80,1485,124,1516,83,1519,71,1484,8],[1394,37,1389,8],[1364,50,1390,50],[1378,88,1392,63],
  [1553,8,1521,77],[1524,73,1561,97],[1539,143,1561,119],[1435,757,1498,873,1524,891,1561,883],[1434,1510,1500,1561]
];
// main boundaries and the frame
const thickLines = [
  [409,8,392,97,8,330],[392,97,1561,918],[1353,8,1370,87,1063,567],[1370,87,1561,152],[1375,787,1561,688],
  [1315,748,922,1345],[8,1250,162,1338,922,1345,985,1561],[162,1338,152,1561],
  [1561,1296,1531,1346,1404,1561],[1531,1346,1202,1561]
];
const thickWidths = [6, 8, 5, 5, 5, 5, 5, 4, 6, 5];
const frameLine = [0,0,2512,0,2512,2512,0,2512,0,0];

// labels: text lines, centre of each line, baselines and the width of the widest line
const labelLines = [["Translation"],["Energy","Metabolism"],["Central Carbon","Metabolism"],["Biosynthesis"],["Folding,","Sorting and","Degradation"],
  ["Signal","Transduction"],["DNA","Maintenance"],["Transcription"],["Membrane","Transport"],["Cell","Motility"],["Other","Enzymes"],["Cytoskeleton"]];
const labelCentreX = [[915],[590,581],[529,535],[1288],[1372,1373,1372],[143,141],[1474,1470],[1481],[77,78],[1517,1517],[1371,1371],[1445]];
const labelBaselines = [[176],[829,966],[1456,1529],[1246],[458,503,547],[115,146],[60,80],[803],[1428,1448],[1468,1486],[1507,1522],[1553]];
const labelWidths = [592,889,612,436,310,233,146,132,122,75,80,60];

function toPoints(view, flat) {
  const pts = [];
  for (let i = 0; i + 1 < flat.length; i += 2) {
    pts.push({ x: view[0] + flat[i] * view[2] / 1568, y: view[1] + flat[i + 1] * view[3] / 1568 });
  }
  return pts;
}

const datasets = [];

function addCells(view, cells, colors) {
  cells.forEach((flat, i) => {
    const pts = toPoints(view, flat);
    pts.push(pts[0]);
    datasets.push({
      data: pts, showLine: true, fill: "shape", pointRadius: 0, tension: 0,
      backgroundColor: colors[i], borderColor: "rgba(0,0,0,0.9)", borderWidth: 1.1, borderJoinStyle: "round"
    });
  });
}

function addLine(flat, view, width, color) {
  datasets.push({
    data: toPoints(view, flat), showLine: true, fill: false, pointRadius: 0, tension: 0,
    borderColor: color, borderWidth: width, borderJoinStyle: "round", borderCapStyle: "round", clip: false
  });
}

addCells(wholeView, regionCells, regionColors);
addCells(wholeView, signalCells, signalColors);
addCells(wholeView, translationCells, translationColors);
addCells(wholeView, ribosomeCells, ribosomeColors);
addCells(wholeView, dnaCells, dnaColors);
addCells(wholeView, foldingCells, foldingColors);
addCells(wholeView, transcriptionCells, transcriptionColors);
addCells(wholeView, energyTopCells, energyTopColors);
addCells(energyView, energyLeftCells, energyLeftColors);
addCells(rightView, energyRightCells, energyRightColors);
addCells(lowerView, lowerCells, lowerColors);
addCells(yellowView, orangeTopCells, orangeTopColors);
addCells(yellowView, yellowCells, yellowColors);
addCells(carbonView, carbonCells, carbonColors);
addCells(wholeView, carbonCornerCells, carbonCornerColors);
addCells(membraneView, membraneCells, membraneColors);
faintLines.forEach(l => addLine(l, wholeView, 0.8, "rgba(0,0,0,0.45)"));
midLines.forEach(l => addLine(l, wholeView, 3, "#000"));
thickLines.forEach((l, i) => addLine(l, wholeView, thickWidths[i], "#000"));
addLine(frameLine, wholeView, 24, "#000");
datasets.forEach((d, i) => { d.order = datasets.length - i; });

// the text goes on top of everything, placed through the scales
const etiquetas = {
  id: "etiquetas",
  afterDraw(chart) {
    const { ctx, scales } = chart;
    const k = 2512 / 1568;
    ctx.save();
    ctx.textAlign = "center";
    ctx.textBaseline = "alphabetic";
    labelLines.forEach((lines, i) => {
      ctx.font = "bold 100px 'DejaVu Sans'";
      const widest = Math.max(...lines.map(t => ctx.measureText(t).width));
      const size = 100 * labelWidths[i] * k / widest;
      ctx.font = "bold " + size + "px 'DejaVu Sans'";
      lines.forEach((t, j) => {
        const x = scales.x.getPixelForValue(labelCentreX[i][j] * k);
        const y = scales.y.getPixelForValue(labelBaselines[i][j] * k);
        ctx.fillStyle = "rgba(0,0,0,0.75)";
        ctx.fillText(t, x + 1.5, y + 1.5);
        ctx.fillStyle = "#fff";
        ctx.fillText(t, x, y);
      });
    });
    ctx.restore();
  }
};

new Chart(document.getElementById("mapa"), {
  type: "scatter",
  data: { datasets: datasets },
  plugins: [etiquetas],
  options: {
    responsive: false,
    animation: false,
    layout: { padding: 0 },
    plugins: { legend: { display: false }, tooltip: { enabled: false } },
    scales: {
      x: { type: "linear", min: 0, max: 2512, display: false },
      y: { type: "linear", min: 0, max: 2512, reverse: true, display: false }
    }
  }
});
</script>
</body>
</html>
